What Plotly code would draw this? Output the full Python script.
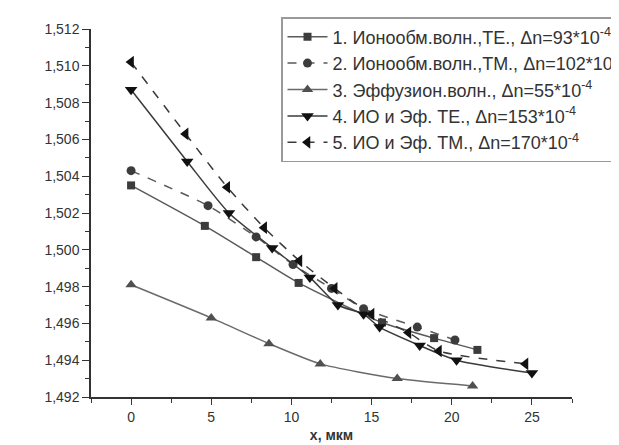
import plotly.graph_objects as go

# Series data (x in мкм, n)
x1 = [0, 4.6, 7.8, 10.45, 15.65, 18.9, 21.6]
n1 = [1.5035, 1.5013, 1.4996, 1.4982, 1.49605, 1.4952, 1.49456]

x2 = [0, 4.8, 7.8, 10.1, 12.5, 14.5, 17.85, 20.2]
n2 = [1.5043, 1.5024, 1.5007, 1.4992, 1.4979, 1.4968, 1.4958, 1.4951]

x3 = [0, 5.0, 8.6, 11.8, 16.6, 21.3]
n3 = [1.4981, 1.4963, 1.4949, 1.4938, 1.4930, 1.4926]

x4 = [0, 3.5, 6.1, 8.8, 11.15, 12.9, 14.5, 15.5, 18.0, 20.3, 25.0]
n4 = [1.5087, 1.5048, 1.5020, 1.5001, 1.4985, 1.4970, 1.4965, 1.4958, 1.4948, 1.4940, 1.4933]

x5 = [0, 3.4, 6.0, 8.3, 10.5, 12.7, 15.0, 17.3, 19.2, 24.6]
n5 = [1.5102, 1.5063, 1.5034, 1.5012, 1.4994, 1.4979, 1.4965, 1.4955, 1.4945, 1.4938]

names = [
    "1. Ионообм.волн.,TE., \u0394n=93*10<sup>-4</sup>",
    "2. Ионообм.волн.,TM., \u0394n=102*10<sup>-4</sup>",
    "3. Эффузион.волн., \u0394n=55*10<sup>-4</sup>",
    "4. ИО и Эф. TE., \u0394n=153*10<sup>-4</sup>",
    "5. ИО и Эф. TM., \u0394n=170*10<sup>-4</sup>",
]

xticks = [0, 5, 10, 15, 20, 25]
yticks = [1.492, 1.494, 1.496, 1.498, 1.500, 1.502, 1.504, 1.506, 1.508, 1.510, 1.512]

styles = [
    dict(sym="square", size=8, mcol="#3c3c3c", lcol="#5a5a5a", dash="solid"),
    dict(sym="circle", size=9, mcol="#3c3c3c", lcol="#5a5a5a", dash="dash"),
    dict(sym="triangle-up", size=10, mcol="#505050", lcol="#6a6a6a", dash="solid"),
    dict(sym="triangle-down", size=11, mcol="#111111", lcol="#3a3a3a", dash="solid"),
    dict(sym="triangle-left", size=11, mcol="#111111", lcol="#3a3a3a", dash="dash"),
]

fig = go.Figure()
for xs, ys, nm, st in zip([x1, x2, x3, x4, x5], [n1, n2, n3, n4, n5], names, styles):
    fig.add_trace(go.Scatter(
        x=xs, y=ys, name=nm, mode="lines+markers",
        line=dict(color=st["lcol"], width=1.5, dash=st["dash"], shape="spline", smoothing=0.6),
        marker=dict(symbol=st["sym"], size=st["size"], color=st["mcol"], line=dict(width=0)),
    ))

base_font = dict(family="Liberation Sans, Arial, sans-serif", size=14, color="#333333")
fig.update_layout(
    width=619, height=445,
    margin=dict(l=83, r=55, t=21, b=56, autoexpand=False),
    paper_bgcolor="white", plot_bgcolor="white",
    separators=", ",
    font=base_font,
    showlegend=True,
    legend=dict(
        xref="container", yref="container",
        x=273 / 619, y=1 - 9 / 445, xanchor="left", yanchor="top",
        bgcolor="white", bordercolor="#9a9a9a", borderwidth=1.5,
        font=dict(family="Liberation Sans, Arial, sans-serif", size=18, color="#333333"),
        itemwidth=40, tracegroupgap=0,
    ),
    xaxis=dict(
        range=[-2.5, 27.5], tickvals=xticks, ticks="outside", ticklen=6, tickwidth=1.3,
        tickcolor="#333333", showline=True, linecolor="#333333", linewidth=1.5,
        showgrid=False, zeroline=False, automargin=False,
        tickfont=dict(size=14),
        minor=dict(dtick=2.5, ticks="outside", ticklen=4, tickwidth=1.2, tickcolor="#333333", showgrid=False),
        title=dict(text="<b>x, мкм</b>", font=dict(size=14, color="#333333"), standoff=7),
    ),
    yaxis=dict(
        range=[1.492, 1.512], tickvals=yticks, tickformat=".3f", ticks="outside", ticklen=7, tickwidth=1.3,
        tickcolor="#333333", showline=True, linecolor="#333333", linewidth=1.5,
        showgrid=False, zeroline=False, automargin=False,
        tickfont=dict(size=14),
        minor=dict(dtick=0.001, ticks="outside", ticklen=4, tickwidth=1.2, tickcolor="#333333", showgrid=False),
        title=dict(text="n", font=dict(size=16, color="#333333"), standoff=4),
    ),
)

fig.write_html("out.html")
